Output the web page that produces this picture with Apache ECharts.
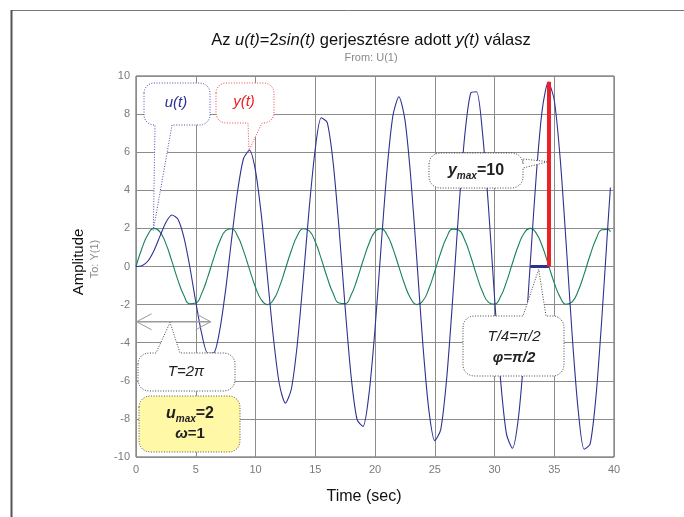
<!DOCTYPE html>
<html><head><meta charset="utf-8">
<script src="https://cdn.jsdelivr.net/npm/echarts@6/dist/echarts.min.js"></script>
<style>html,body{margin:0;padding:0;background:#fff}#c{width:684px;height:517px}</style>
</head><body><div id="c"></div>
<script>
// ---- data ----
const tData = [0,0.5,1,1.5,2,2.5,3,3.5,4,4.5,5,5.5,6,6.5,7,7.5,8,8.5,9,9.5,10,10.5,11,11.5,12,12.5,13,13.5,14,14.5,15,15.5,16,16.5,17,17.5,18,18.5,19,19.5,20,20.5,21,21.5,22,22.5,23,23.5,24,24.5,25,25.5,26,26.5,27,27.5,28,28.5,29,29.5,30,30.5,31,31.5,32,32.5,33,33.5,34,34.5,35,35.5,36,36.5,37,37.5,38,38.5,39,39.5,39.7];
const uData = [0,0.96,1.68,2.00,1.82,1.20,0.28,-0.70,-1.51,-1.96,-1.92,-1.41,-0.56,0.43,1.31,1.88,1.98,1.60,0.82,-0.15,-1.09,-1.76,-2.00,-1.75,-1.07,-0.13,0.84,1.61,1.98,1.87,1.30,0.41,-0.58,-1.42,-1.92,-1.95,-1.50,-0.68,0.30,1.21,1.83,1.99,1.67,0.94,-0.02,-0.97,-1.69,-2.00,-1.81,-1.18,-0.26,0.72,1.53,1.96,1.91,1.40,0.54,-0.45,-1.33,-1.88,-1.98,-1.59,-0.81,0.17,1.10,1.77,2.00,1.74,1.06,0.11,-0.86,-1.62,-1.98,-1.86,-1.29,-0.40,0.59,1.44,1.93,1.95,1.82];
const yData = [0,0.04,0.29,0.83,1.58,2.31,2.70,2.49,1.55,0.00,-1.85,-3.53,-4.55,-4.54,-3.37,-1.23,1.43,3.95,5.67,6.10,5.02,2.63,-0.55,-3.75,-6.18,-7.17,-6.43,-4.07,-0.62,3.10,6.17,7.81,7.56,5.44,1.93,-2.14,-5.76,-8.04,-8.39,-6.67,-3.29,0.95,5.03,7.92,8.91,7.72,4.62,0.36,-4.05,-7.50,-9.14,-8.56,-5.87,-1.72,2.88,6.81,9.09,9.17,6.99,3.09,-1.59,-5.90,-8.79,-9.54,-7.95,-4.41,0.23,4.83,8.26,9.68,8.74,5.65,1.17,-3.61,-7.52,-9.59,-9.33,-6.77,-2.56,2.29,4.15];
const xTicks = [0,5,10,15,20,25,30,35,40];
const yTicks = [-10,-8,-6,-4,-2,0,2,4,6,8,10];
const redLine = [[34.56,0],[34.56,9.7]];      // y_max marker
const phaseLine = [[32.99,0],[34.56,0]];      // T/4 marker
const periodArrow = [[0.05,-2.9],[6.25,-2.9]]; // T = 2pi
const subTitle = 'From: U(1)';
const xName = 'Time (sec)';
const yName = 'Amplitude';
const yName2 = 'To: Y(1)';

const FONT = '"Liberation Sans", Arial, Helvetica, sans-serif';
const BLUE = '#2e3192', GREEN = '#17805a', RED = '#ec2027', INK = '#222';

const chart = echarts.init(document.getElementById('c'), null, {renderer: 'canvas'});
const pair = (a, b) => a.map((t, i) => [t, b[i]]);

chart.setOption({
  animation: false,
  backgroundColor: '#fff',
  grid: {left: 136, top: 76, width: 478, height: 381, show: true, borderColor: '#555', borderWidth: 1},
  xAxis: {type: 'value', min: xTicks[0], max: xTicks[xTicks.length-1], interval: 5,
    axisLine: {show: false}, axisTick: {show: false},
    splitLine: {show: true, lineStyle: {color: '#8c8c8c', width: 1}},
    axisLabel: {color: '#7a7a7a', fontSize: 11, fontFamily: FONT, margin: 7}},
  yAxis: {type: 'value', min: yTicks[0], max: yTicks[yTicks.length-1], interval: 2,
    axisLine: {show: false}, axisTick: {show: false},
    splitLine: {show: true, lineStyle: {color: '#8c8c8c', width: 1}},
    axisLabel: {color: '#7a7a7a', fontSize: 11, fontFamily: FONT, margin: 6}},
  series: [
    {type: 'line', data: pair(tData, uData), showSymbol: false, smooth: true, z: 3,
     lineStyle: {color: GREEN, width: 1.1}},
    {type: 'line', data: pair(tData, yData), showSymbol: false, smooth: 0.25, z: 4,
     lineStyle: {color: BLUE, width: 1.1}},
    {type: 'line', data: phaseLine, showSymbol: false, z: 5, lineStyle: {color: BLUE, width: 3}},
    {type: 'line', data: redLine, showSymbol: false, z: 6, lineStyle: {color: RED, width: 4}}
  ]
});

const px = p => chart.convertToPixel({gridIndex: 0}, p);

function bubble(x1, y1, x2, y2, r, side, ta, tb, tip) {
  const pts = [];
  const arc = (cx, cy, a0, a1) => { for (let k = 0; k <= 6; k++) { const a = a0 + (a1 - a0) * k / 6; pts.push([cx + r*Math.cos(a), cy + r*Math.sin(a)]); } };
  arc(x1 + r, y1 + r, Math.PI, 1.5*Math.PI);
  if (side === 'top') { pts.push([ta, y1], tip, [tb, y1]); }
  arc(x2 - r, y1 + r, -0.5*Math.PI, 0);
  if (side === 'right') { pts.push([x2, ta], tip, [x2, tb]); }
  arc(x2 - r, y2 - r, 0, 0.5*Math.PI);
  if (side === 'bottom') { pts.push([tb, y2], tip, [ta, y2]); }
  arc(x1 + r, y2 - r, 0.5*Math.PI, Math.PI);
  return pts;
}
function poly(points, stroke, fill) {
  return {type: 'polygon', z: 50, shape: {points: points},
    style: {fill: fill || '#fff', stroke: stroke, lineWidth: 1, lineDash: [1, 1.6]}};
}
function rtxt(x, y, text, rich, extra) {
  return Object.assign({type: 'text', z: 60, x: x, y: y,
    style: {text: text, rich: rich, align: 'center', verticalAlign: 'middle',
      textAlign: 'center', textVerticalAlign: 'middle', fontFamily: FONT}}, extra || {});
}
function ptxt(x, y, text, size, fill, extra) {
  return Object.assign({type: 'text', z: 60, x: x, y: y,
    style: {text: text, align: 'center', verticalAlign: 'middle', textAlign: 'center', textVerticalAlign: 'middle',
      fontFamily: FONT, fontSize: size, fill: fill}}, extra || {});
}
const tok = (size, fill, italic, bold, more) => Object.assign({fontSize: size, fill: fill, fontFamily: FONT,
  fontStyle: italic ? 'italic' : 'normal', fontWeight: bold ? 'bold' : 'normal'}, more || {});

const uTip = px([1.45, 1.9]);
const yTip = px([9.46, 6.1]);
const ymTip = px([34.5, 5.5]);
const phTip = px([33.7, -0.15]);
const pa0 = px(periodArrow[0]), pa1 = px(periodArrow[1]);
const paTip = px([2.85, -2.94]);

const g = [];
// outer frame
g.push({type: 'line', z: 1, shape: {x1: 11, y1: 10.5, x2: 684, y2: 10.5}, style: {stroke: '#777', lineWidth: 1}});
g.push({type: 'line', z: 1, shape: {x1: 11.5, y1: 10, x2: 11.5, y2: 517}, style: {stroke: '#555', lineWidth: 2}});
// titles
g.push(rtxt(371, 40, '{n|Az }{i|u(t)}{n|=2}{i|sin(t)}{n| gerjesztésre adott }{i|y(t)}{n| válasz}', {
  n: tok(16.5, '#111', false, false), i: tok(16.5, '#111', true, false)}));
g.push(ptxt(371, 58, subTitle, 11, '#8a8a8a'));
g.push(ptxt(364, 497, xName, 16, '#111'));
g.push(ptxt(79, 262, yName, 15, '#111', {rotation: Math.PI/2}));
g.push(ptxt(95, 259, yName2, 11, '#8a8a8a', {rotation: Math.PI/2}));

// u(t) callout
g.push(poly(bubble(144, 83, 210, 125, 10, 'bottom', 155, 172, uTip), '#4b4bb0'));
g.push(rtxt(176, 103, '{a|u(t)}', {a: tok(15, BLUE, true, false)}));
// y(t) callout
g.push(poly(bubble(216, 83, 274, 123, 10, 'bottom', 248, 262, yTip), '#ee4a50'));
g.push(rtxt(244, 102, '{a|y(t)}', {a: tok(15, RED, true, false)}));
// y_max callout
g.push(poly(bubble(429, 153, 523, 188, 11, 'right', 159, 168, ymTip), '#444'));
g.push(rtxt(476, 171, '{a|y}{s|max}{b|=10}', {
  a: tok(16, INK, true, true, {lineHeight: 20}),
  s: tok(10, INK, true, true, {verticalAlign: 'bottom', lineHeight: 20, padding: [8, 0, 0, 0]}),
  b: tok(16, INK, false, true, {lineHeight: 20})}));
// T/4 callout
g.push(poly(bubble(463, 316, 564, 376, 11, 'top', 523, 546, phTip), '#444'));
g.push(rtxt(514, 337, '{a|T/4=π/2}', {a: tok(15, INK, true, false)}));
g.push(rtxt(514, 358, '{a|φ=π/2}', {a: tok(15, INK, true, true)}));
// T = 2pi arrow
g.push({type: 'line', z: 40, shape: {x1: pa0[0], y1: pa0[1], x2: pa1[0], y2: pa1[1]}, style: {stroke: '#9a9a9a', lineWidth: 1.5}});
g.push({type: 'polyline', z: 40, shape: {points: [[pa0[0] + 15, pa0[1] - 8], pa0, [pa0[0] + 15, pa0[1] + 8]]}, style: {stroke: '#9a9a9a', lineWidth: 1, fill: null}});
g.push({type: 'polyline', z: 40, shape: {points: [[pa1[0] - 15, pa1[1] - 8], pa1, [pa1[0] - 15, pa1[1] + 8]]}, style: {stroke: '#9a9a9a', lineWidth: 1, fill: null}});
g.push(poly(bubble(138, 353, 235, 391, 11, 'top', 156, 180, paTip), '#444'));
g.push(rtxt(186, 372, '{a|T=2π}', {a: tok(15, INK, true, false)}));
// u_max box
g.push(poly(bubble(139, 396, 240, 452, 11, 'none', 0, 0, null), '#555', '#fff8a6'));
g.push(rtxt(190, 414, '{a|u}{s|max}{b|=2}', {
  a: tok(16, INK, true, true, {lineHeight: 20}),
  s: tok(10, INK, true, true, {verticalAlign: 'bottom', lineHeight: 20, padding: [8, 0, 0, 0]}),
  b: tok(16, INK, false, true, {lineHeight: 20})}));
g.push(rtxt(190, 434, '{a|ω}{b|=1}', {a: tok(15, INK, true, true), b: tok(15, INK, false, true)}));

chart.setOption({graphic: g});
</script></body></html>
